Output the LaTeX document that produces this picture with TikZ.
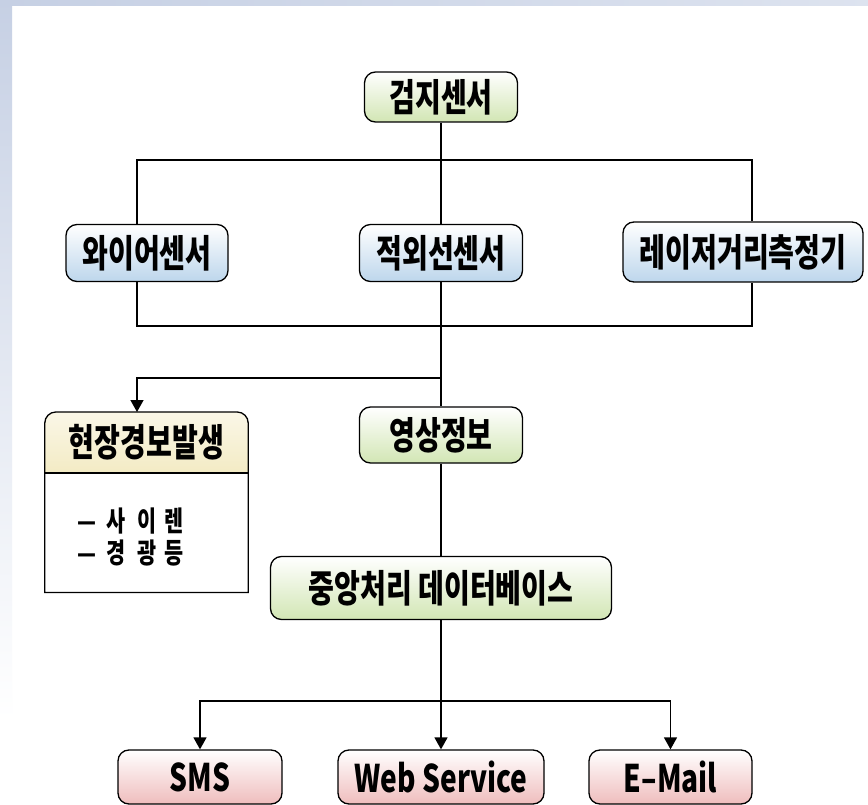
\documentclass[tikz,border=0pt]{standalone}
\usepackage{fontspec}
\newfontfamily\kr[FakeStretch=0.74]{Noto Sans CJK KR}
\usetikzlibrary{arrows.meta}
\definecolor{boxgreen}{HTML}{D2E6B4}
\definecolor{boxblue}{HTML}{BDD6EC}
\definecolor{boxpink}{HTML}{EFBDBD}
\definecolor{alarmyel}{HTML}{F3EBC4}
\definecolor{bgblue}{HTML}{C6D0E4}
\tikzset{
  box/.style={draw=black, line width=1.3pt, rounded corners=11pt, inner sep=0pt,
    top color=white, font=\kr\bfseries\fontsize{38}{40}\selectfont},
  gbox/.style={box, bottom color=boxgreen},
  bbox/.style={box, bottom color=boxblue},
  pbox/.style={box, bottom color=boxpink},
  conn/.style={line width=1.5pt, draw=black},
  arr/.style={conn, -{Triangle[width=13pt,length=12pt]}},
  plain/.style={inner sep=0pt, font=\kr\bfseries\fontsize{38}{40}\selectfont},
  small/.style={inner sep=0pt, align=left, font=\kr\bfseries\fontsize{28}{32}\selectfont}
}
\begin{document}
\begin{tikzpicture}[x=1pt,y=-1pt]
\useasboundingbox (0,0) rectangle (868,805);
\fill[white] (0,0) rectangle (868,805);
\shade[left color=bgblue, right color=bgblue!60] (0,0) rectangle (868,6);
\shade[top color=bgblue, bottom color=white] (0,0) rectangle (12,720);

\node[gbox, minimum width=153pt, minimum height=50pt] (det) at (441,97) {검지센서};
\node[bbox, minimum width=162pt, minimum height=57pt] (wire) at (147,253) {와이어센서};
\node[bbox, minimum width=163pt, minimum height=57pt] (ir) at (441,253) {적외선센서};
\node[bbox, minimum width=240pt, minimum height=60pt] (laser) at (743,252) {레이저거리측정기};
\node[gbox, minimum width=163pt, minimum height=56pt] (video) at (441,435) {영상정보};
\node[gbox, minimum width=341pt, minimum height=63pt] (db) at (441,588) {중앙처리 데이터베이스};
\node[pbox, minimum width=164pt, minimum height=54pt] (sms) at (200,777) {SMS};
\node[pbox, minimum width=206pt, minimum height=54pt] (web) at (441,777) {Web Service};
\node[pbox, minimum width=163pt, minimum height=54pt] (email) at (670.5,777) {E–Mail};

% alarm box
\node[inner sep=0pt, minimum width=203pt, minimum height=180pt, anchor=north] (alarm) at (146.5,412) {};
\fill[top color=white!60!alarmyel, bottom color=alarmyel]
  ([yshift=-61pt]alarm.north west) [rounded corners=11pt] -- (alarm.north west) -- (alarm.north east)
  [sharp corners] -- ([yshift=-61pt]alarm.north east) -- cycle;
\draw[line width=1.3pt] (alarm.south west) [rounded corners=11pt] -- (alarm.north west) -- (alarm.north east)
  [sharp corners] -- (alarm.south east) -- cycle;
\draw[line width=1.3pt] ([yshift=-61pt]alarm.north west) -- ([yshift=-61pt]alarm.north east);
\node[plain] (ahead) at ([yshift=-30.5pt]alarm.north) {현장경보발생};
\node[small, anchor=west] (abody) at (77,537)
  {—\hspace{10pt}사\hspace{12pt}이\hspace{8pt}렌\\—\hspace{10pt}경\hspace{12pt}광\hspace{8pt}등};

% connectors
\coordinate (tl) at (137,160);
\coordinate (tr) at (752,160);
\coordinate (bl) at (137,326);
\coordinate (br) at (752,326);
\coordinate (bj) at (441,378);
\coordinate (oj) at (441,701);
\draw[conn] (det.south) -- (ir.north);
\draw[conn] (wire.north -| tl) -- (tl) -- (tr) -- (laser.north -| tr);
\draw[conn] (wire.south -| bl) -- (bl) -- (br) -- (laser.south -| br);
\draw[conn] (ir.south) -- (video.north);
\draw[arr] (bj) -- (bj -| bl) -- (alarm.north -| bl);
\draw[conn] (video.south) -- (db.north);
\draw[conn] (db.south) -- (oj);
\draw[arr] (oj) -- (web.north);
\draw[arr] (oj) -| (sms.north);
\draw[arr] (oj) -| (email.north);
\end{tikzpicture}
\end{document}
